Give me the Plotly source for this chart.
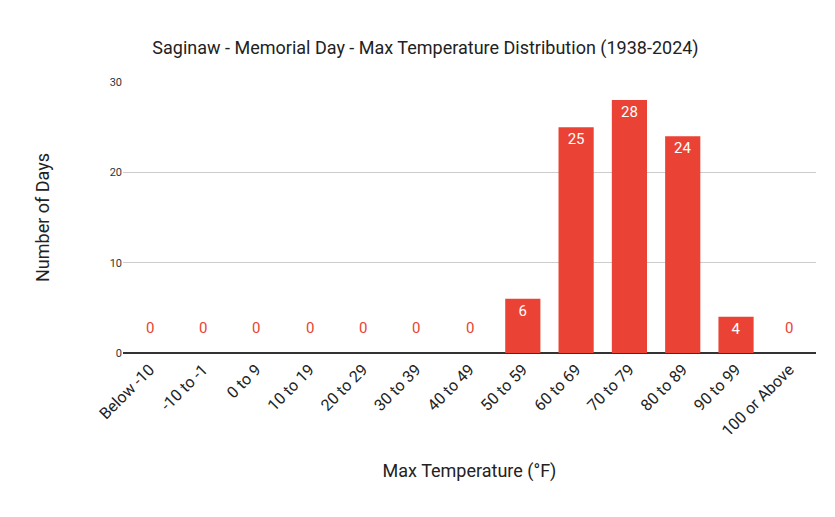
import plotly.graph_objects as go

categories = ["Below -10", "-10 to -1", "0 to 9", "10 to 19", "20 to 29", "30 to 39",
              "40 to 49", "50 to 59", "60 to 69", "70 to 79", "80 to 89", "90 to 99", "100 or Above"]
counts = [0, 0, 0, 0, 0, 0, 0, 6, 25, 28, 24, 4, 0]

red = "#EA4335"
fig = go.Figure(go.Bar(
    x=categories, y=counts, marker=dict(color=red, line=dict(width=0)),
    text=[str(v) if v > 0 else "" for v in counts],
    textposition="inside", insidetextanchor="end",
    textfont=dict(color="white", size=15, family="Roboto"),
    cliponaxis=False,
))
for c, v in zip(categories, counts):
    if v == 0:
        fig.add_annotation(x=c, y=0, text="0", showarrow=False, yshift=25,
                           font=dict(color=red, size=15, family="Roboto"))

fig.update_layout(
    width=835, height=517, plot_bgcolor="white", paper_bgcolor="white",
    margin=dict(l=115, r=27, t=74, b=172, autoexpand=False),
    bargap=0.34, showlegend=False,
    font=dict(family="Roboto", color="#222"),
    title=dict(text="Saginaw - Memorial Day - Max Temperature Distribution (1938-2024)",
               x=0.5, xanchor="center", y=1 - 40 / 517, yanchor="middle",
               font=dict(size=18, color="#222"), automargin=False),
)
fig.update_yaxes(range=[0, 30], tickvals=[0, 10, 20, 30], gridcolor="#cccccc",
                 tickfont=dict(size=11, color="#333"), zeroline=True, zerolinecolor="#333",
                 title=dict(text="Number of Days", font=dict(size=18), standoff=55),
                 ticks="", ticklen=0, automargin=False)
fig.update_xaxes(tickangle=-45, tickfont=dict(size=16, color="#222"),
                 showline=True, linecolor="#333", automargin=False,
                 title=dict(text="Max Temperature (°F)", font=dict(size=18), standoff=25))
fig.write_html("out.html")
